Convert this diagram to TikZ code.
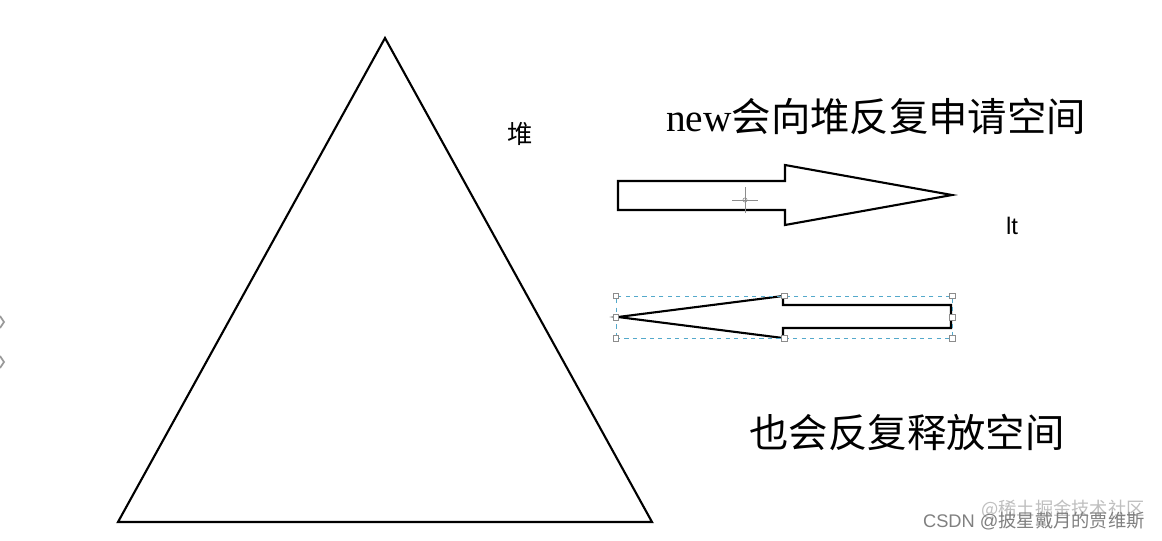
\documentclass[tikz,border=0pt]{standalone}
\usepackage{fontspec}
\setmainfont{Liberation Serif}
\setsansfont{Liberation Sans}
\newfontfamily\cjk{Noto Sans CJK SC}
\usepackage{tikz}
\usetikzlibrary{positioning, calc}

\begin{document}
\begin{tikzpicture}[
      x=0.025cm, y=-0.025cm,
      outline/.style={draw=black, line width=1.5pt, line join=miter},
      bigtext/.style={inner sep=0pt, font=\fontsize{28}{28}\selectfont},
      smalltext/.style={inner sep=0pt, font=\fontsize{18}{18}\selectfont},
      wmark/.style={inner sep=0pt, font=\sffamily\fontsize{13}{13}\selectfont, text=black!50},
      handle/.style={draw=black!45, fill=white, line width=0.4pt, minimum size=4pt, inner sep=0pt, rectangle}
    ]
      \useasboundingbox[fill=white] (0,0) rectangle (1162,540);

      % Heap triangle
      \coordinate (apex) at (385,38);
      \coordinate (baseL) at (118,522);
      \coordinate (baseR) at (652,522);
      \draw[outline] (apex) -- (baseL) -- (baseR) -- cycle;

      % Label of the heap
      \node[smalltext] (heap) at (520,134) {\cjk 堆};

      % Allocation: arrow pointing right
      \node[bigtext] (alloc) at (876,116) {new{\cjk 会向堆反复申请空间}};
      \draw[outline] (618,181) -- (785,181) -- (785,165) -- (952,195)
        -- (785,225) -- (785,210) -- (618,210) -- cycle;
      \node[smalltext, font=\sffamily\fontsize{17}{17}\selectfont] (lt) at (1012,226) {lt};

      % Cursor cross
      \coordinate (cursor) at (745,200);
      \draw[black!45, line width=0.5pt] ([xshift=-9]cursor) -- ([xshift=9]cursor)
        ([yshift=-9]cursor) -- ([yshift=9]cursor);
      \draw[black!45, line width=0.4pt] (cursor) circle (1.5pt);

      % Release: arrow pointing left, selected
      \draw[outline] (618,317) -- (783,296) -- (783,305) -- (951,305)
        -- (951,328) -- (783,328) -- (783,338) -- cycle;
      \node[draw=cyan!60!gray, dashed, line width=0.5pt, minimum width=336*0.025cm,
        minimum height=42*0.025cm, inner sep=0pt] (select) at (784,317) {};
      \foreach \a in {north west, north, north east, west, east, south west, south, south east}
        \node[handle] at (select.\a) {};
      \node[bigtext] (free) at (907,432) {\cjk 也会反复释放空间};

      % Marks on the left edge
      \draw[black!40, line width=1.2pt] (0,316) -- (4,322) -- (0,328);
      \draw[black!40, line width=1.2pt] (0,356) -- (4,362) -- (0,368);

      % Watermarks
      \node[wmark, text=black!25, anchor=east] (wm1) at (1145,509) {{\cjk @稀土掘金技术社区}};
      \node[wmark, anchor=east] (wm2) at (1145,521) {CSDN @{\cjk 披星戴月的贾维斯}};
\end{tikzpicture}
\end{document}
